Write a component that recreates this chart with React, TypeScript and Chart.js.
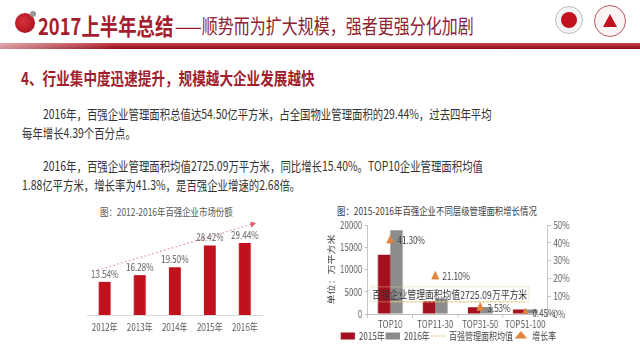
import React, { useEffect, useRef } from "react";
import { Chart, registerables } from "chart.js";

Chart.register(...registerables);

// ---------- data ----------
const shareYears = ["2012年", "2013年", "2014年", "2015年", "2016年"];
const shareValues = [13.54, 16.28, 19.5, 28.42, 29.44];
const shareMax = 38;
// trend arrow (category index, value)
const trendFrom = [-0.2, 18.4];
const trendTo = [4.23, 37.2];

const tierCategories = ["TOP10", "TOP11-30", "TOP31-50", "TOP51-100"];
const area2015 = [13300, 2900, 1500, 1000];
const area2016 = [18800, 3500, 1550, 1010];
const avgArea = 2725.09;
const avgLabel = "百强企业管理面积均值2725.09万平方米";
const growthRate = [41.3, 21.1, 3.53, 0.45];
const areaTicks = [0, 5000, 10000, 15000, 20000];
const rateTicks = [0, 10, 20, 30, 40, 50];

const SX = 0.8;
const CJK = '"Noto Sans CJK SC", "Noto Sans", sans-serif';
const RED = "#C0111D";
const MAROON = "#A5101E";
const GRAY = "#8C8C8C";
const ORANGE = "#E0833C";
const AVG = "#EBC25A";
const TXT = "#595959";

function T(props: { x: number; y: number; size: number; color: string; bold?: boolean; children: any }) {
  return (
    <div
      style={{
        position: "absolute",
        left: props.x,
        top: props.y - props.size / 2,
        fontSize: props.size,
        lineHeight: 1,
        color: props.color,
        fontWeight: props.bold ? 700 : 400,
        fontFamily: CJK,
        whiteSpace: "nowrap",
        transform: `scaleX(${SX})`,
        transformOrigin: "0 0",
      }}
    >
      {props.children}
    </div>
  );
}

function ShareChart() {
  const ref = useRef<HTMLCanvasElement>(null);
  useEffect(() => {
    const labelPlugin = {
      id: "barLabels",
      afterDatasetsDraw(chart: any) {
        const ctx = chart.ctx;
        const meta = chart.getDatasetMeta(0);
        ctx.save();
        ctx.font = `10px ${CJK}`;
        ctx.fillStyle = TXT;
        ctx.textAlign = "center";
        ctx.textBaseline = "bottom";
        meta.data.forEach((bar: any, i: number) => {
          ctx.fillText(shareValues[i].toFixed(2) + "%", bar.x, bar.y - 3);
        });
        ctx.restore();
      },
    };
    const trendPlugin = {
      id: "trend",
      beforeDatasetsDraw(chart: any) {
        const { ctx, scales } = chart;
        const x0 = scales.x.getPixelForValue(trendFrom[0]);
        const y0 = scales.y.getPixelForValue(trendFrom[1]);
        const x1 = scales.x.getPixelForValue(trendTo[0]);
        const y1 = scales.y.getPixelForValue(trendTo[1]);
        ctx.save();
        ctx.strokeStyle = "#E39A9C";
        ctx.lineWidth = 1.3;
        ctx.setLineDash([2, 3]);
        ctx.beginPath();
        ctx.moveTo(x0, y0);
        ctx.lineTo(x1, y1);
        ctx.stroke();
        ctx.setLineDash([]);
        const a = Math.atan2(y1 - y0, x1 - x0);
        ctx.fillStyle = "#D9575C";
        ctx.beginPath();
        ctx.moveTo(x1 + 4 * Math.cos(a), y1 + 4 * Math.sin(a));
        ctx.lineTo(x1 + 4 * Math.cos(a + 2.3), y1 + 4 * Math.sin(a + 2.3));
        ctx.lineTo(x1 + 4 * Math.cos(a - 2.3), y1 + 4 * Math.sin(a - 2.3));
        ctx.closePath();
        ctx.fill();
        ctx.restore();
      },
    };
    const chart = new Chart(ref.current!, {
      type: "bar",
      data: {
        labels: shareYears,
        datasets: [
          {
            data: shareValues,
            backgroundColor: RED,
            barPercentage: 0.34,
            categoryPercentage: 1,
          },
        ],
      },
      options: {
        responsive: false,
        animation: false,
        devicePixelRatio: 1,
        layout: { padding: { left: 34, right: 35, top: 22, bottom: 6 } },
        scales: {
          x: {
            grid: { display: false, drawTicks: false },
            border: { display: true, color: "#D9D9D9" },
            ticks: { color: TXT, font: { size: 10, family: CJK }, padding: 6, maxRotation: 0, autoSkip: false },
          },
          y: { display: false, min: 0, max: shareMax },
        },
        plugins: { legend: { display: false }, tooltip: { enabled: false } },
      },
      plugins: [labelPlugin, trendPlugin],
    });
    return () => chart.destroy();
  }, []);
  return (
    <canvas
      ref={ref}
      width={288}
      height={145}
      style={{
        position: "absolute",
        left: 60,
        top: 200,
        width: 288,
        height: 145,
        transform: `scaleX(${SX})`,
        transformOrigin: "0 0",
      }}
    />
  );
}

function TierChart() {
  const ref = useRef<HTMLCanvasElement>(null);
  useEffect(() => {
    const annot = {
      id: "annot",
      afterDatasetsDraw(chart: any) {
        const { ctx, scales } = chart;
        ctx.save();
        ctx.font = `11px ${CJK}`;
        const ax = scales.x.getPixelForValue(1.32);
        const ay = scales.y.getPixelForValue(avgArea) - 7;
        const w = ctx.measureText(avgLabel).width;
        ctx.strokeStyle = "rgba(220,200,160,0.45)";
        ctx.lineWidth = 1;
        ctx.strokeRect(ax - w / 2 - 2, ay - 8, w + 4, 15);
        ctx.fillStyle = "#333333";
        ctx.textAlign = "center";
        ctx.textBaseline = "middle";
        ctx.fillText(avgLabel, ax, ay);
        const meta = chart.getDatasetMeta(3);
        ctx.font = `10px ${CJK}`;
        ctx.fillStyle = "#404040";
        ctx.textAlign = "left";
        meta.data.forEach((pt: any, i: number) => {
          ctx.fillText(growthRate[i].toFixed(2) + "%", pt.x + 9, pt.y);
        });
        ctx.restore();
      },
    };
    const chart = new Chart(ref.current!, {
      type: "bar",
      data: {
        labels: tierCategories,
        datasets: [
          { label: "2015年", data: area2015, backgroundColor: MAROON, categoryPercentage: 0.55, barPercentage: 1, yAxisID: "y", order: 2 },
          { label: "2016年", data: area2016, backgroundColor: GRAY, categoryPercentage: 0.55, barPercentage: 1, yAxisID: "y", order: 2 },
          {
            type: "line",
            label: "百强管理面积均值",
            data: tierCategories.map(() => avgArea),
            borderColor: AVG,
            borderWidth: 1,
            borderDash: [3, 2],
            pointRadius: 0,
            yAxisID: "y",
            order: 1,
          } as any,
          {
            type: "line",
            label: "增长率",
            data: growthRate,
            showLine: false,
            pointStyle: "triangle",
            pointRadius: 5,
            pointBackgroundColor: ORANGE,
            pointBorderColor: ORANGE,
            yAxisID: "y1",
            order: 0,
          } as any,
        ],
      },
      options: {
        responsive: false,
        animation: false,
        devicePixelRatio: 1,
        layout: { padding: { left: 6, right: 28, top: 25, bottom: 0 } },
        scales: {
          x: {
            offset: true,
            grid: { display: true, drawOnChartArea: false, offset: true, tickLength: 4, color: "#BFBFBF" },
            border: { color: "#BFBFBF" },
            ticks: { color: TXT, font: { size: 10, family: CJK, lineHeight: 1 }, padding: 1, maxRotation: 0, minRotation: 0, autoSkip: false },
          },
          y: {
            min: 0,
            max: 20000,
            afterBuildTicks: (s: any) => {
              s.ticks = areaTicks.map((v) => ({ value: v }));
            },
            grid: { display: true, drawOnChartArea: false, tickLength: 4, color: "#BFBFBF" },
            border: { color: "#BFBFBF" },
            ticks: { color: TXT, font: { size: 10, family: CJK }, padding: 3, autoSkip: false, callback: (v: any) => String(v) },
            title: { display: true, text: "单位：万平方米", color: "#404040", font: { size: 10, family: CJK }, padding: 2 },
          },
          y1: {
            position: "right",
            min: 0,
            max: 50,
            afterBuildTicks: (s: any) => {
              s.ticks = rateTicks.map((v) => ({ value: v }));
            },
            grid: { display: true, drawOnChartArea: false, tickLength: 4, color: "#BFBFBF" },
            border: { color: "#BFBFBF" },
            ticks: { color: TXT, font: { size: 10, family: CJK }, padding: 3, autoSkip: false, callback: (v: any) => v + "%" },
          },
        },
        plugins: {
          tooltip: { enabled: false },
          legend: {
            position: "bottom",
            labels: {
              usePointStyle: true,
              pointStyleWidth: 18,
              boxHeight: 7,
              padding: 1,
              color: "#404040",
              font: { size: 10, family: CJK },
              generateLabels: () => [
                { text: "2015年", fillStyle: MAROON, strokeStyle: MAROON, lineWidth: 0, pointStyle: "rect", datasetIndex: 0, fontColor: "#404040" },
                { text: "2016年", fillStyle: GRAY, strokeStyle: GRAY, lineWidth: 0, pointStyle: "rect", datasetIndex: 1, fontColor: "#404040" },
                { text: "百强管理面积均值", fillStyle: "rgba(0,0,0,0)", strokeStyle: AVG, lineWidth: 1, lineDash: [3, 2], pointStyle: "line", datasetIndex: 2, fontColor: "#404040" },
                { text: "增长率", fillStyle: ORANGE, strokeStyle: ORANGE, lineWidth: 0, pointStyle: "triangle", datasetIndex: 3, fontColor: "#404040" },
              ],
            },
          },
        },
      } as any,
      plugins: [annot],
    });
    return () => chart.destroy();
  }, []);
  return (
    <canvas
      ref={ref}
      width={343}
      height={151}
      style={{
        position: "absolute",
        left: 320,
        top: 200,
        width: 343,
        height: 151,
        transform: `scaleX(${SX})`,
        transformOrigin: "0 0",
      }}
    />
  );
}

export default function App() {
  return (
    <div
      style={{
        position: "fixed",
        left: 0,
        top: 0,
        width: 640,
        height: 360,
        overflow: "hidden",
        background: "#FFFFFF",
        fontFamily: CJK,
      }}
    >
      {/* header */}
      <div
        style={{
          position: "absolute",
          left: 15,
          top: 13,
          width: 20,
          height: 20,
          borderRadius: "50%",
          background: "radial-gradient(circle at 40% 40%, #D8303A, #A00C18)",
        }}
      />
      <div style={{ position: "absolute", left: 30, top: 11, width: 6, height: 6, borderRadius: "50%", background: "#9A9A9A" }} />
      <T x={38} y={25} size={23} color="#A51D2E" bold>
        2017上半年总结
      </T>
      <T x={175} y={26} size={20} color="#8E2232">
        ——顺势而为扩大规模，强者更强分化加剧
      </T>
      <div style={{ position: "absolute", left: 555, top: 6, width: 26, height: 26, borderRadius: "50%", border: "1px solid #BDBDBD", background: "#F4F4F4" }}>
        <div style={{ position: "absolute", left: 5, top: 5, width: 16, height: 16, borderRadius: "50%", background: "#C0111D" }} />
      </div>
      <div style={{ position: "absolute", left: 594, top: 5, width: 30, height: 30, borderRadius: "50%", border: "1px solid #B85A62", background: "#FAF4F4" }}>
        <div
          style={{
            position: "absolute",
            left: 8,
            top: 8,
            width: 0,
            height: 0,
            borderLeft: "7px solid transparent",
            borderRight: "7px solid transparent",
            borderBottom: "13px solid #C0111D",
          }}
        />
      </div>
      <div
        style={{
          position: "absolute",
          left: 0,
          top: 43,
          width: 640,
          height: 6,
          background: "linear-gradient(to right, rgba(255,255,255,0.55), rgba(255,255,255,0) 18%), linear-gradient(#C8404A, #8E0C19)",
        }}
      />

      <T x={21} y={77} size={17} color="#A01E2E" bold>
        4、行业集中度迅速提升，规模越大企业发展越快
      </T>
      <T x={43} y={113} size={13} color="#333333">
        2016年，百强企业管理面积总值达54.50亿平方米，占全国物业管理面积的29.44%，过去四年平均
      </T>
      <T x={22} y={132} size={13} color="#333333">
        每年增长4.39个百分点。
      </T>
      <T x={43} y={165} size={13} color="#333333">
        2016年，百强企业管理面积均值2725.09万平方米，同比增长15.40%。TOP10企业管理面积均值
      </T>
      <T x={22} y={184} size={13} color="#333333">
        1.88亿平方米，增长率为41.3%，是百强企业增速的2.68倍。
      </T>

      <T x={100} y={212} size={10.5} color="#595959">
        图：2012-2016年百强企业市场份额
      </T>
      <T x={337} y={211} size={10.5} color="#404040">
        图：2015-2016年百强企业不同层级管理面积增长情况
      </T>

      <ShareChart />
      <TierChart />
    </div>
  );
}
